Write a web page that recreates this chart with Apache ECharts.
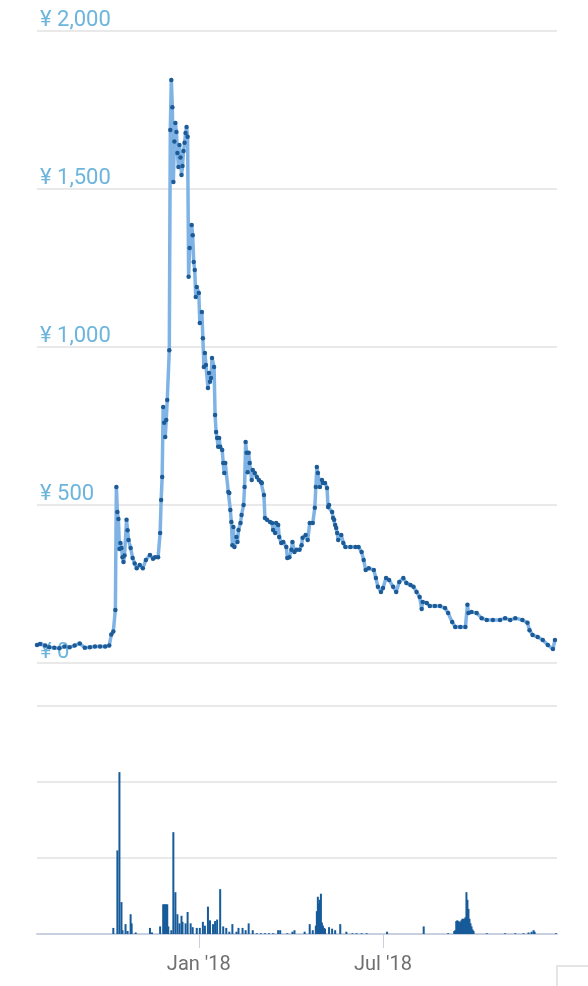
<!DOCTYPE html>
<html>
<head>
<meta charset="utf-8">
<title>Price and volume</title>
<script src="https://cdn.jsdelivr.net/npm/echarts@6/dist/echarts.min.js"></script>
<style>
  html, body { margin: 0; padding: 0; background: #fff; }
  #chart { width: 588px; height: 986px; }
</style>
</head>
<body>
<div id="chart"></div>
<script>
// price, yen per day
const priceDates = [
  '2017-07-26','2017-07-29','2017-08-03','2017-08-07','2017-08-12','2017-08-17','2017-08-22','2017-08-27',
  '2017-09-01','2017-09-06','2017-09-11','2017-09-16','2017-09-21','2017-09-26','2017-10-01','2017-10-05',
  '2017-10-07','2017-10-09','2017-10-11','2017-10-12','2017-10-13','2017-10-14','2017-10-15','2017-10-16',
  '2017-10-17','2017-10-18','2017-10-19','2017-10-20','2017-10-22','2017-10-23','2017-10-24','2017-10-26',
  '2017-10-28','2017-10-30','2017-11-01','2017-11-04','2017-11-07','2017-11-10','2017-11-14','2017-11-17',
  '2017-11-19','2017-11-22','2017-11-24','2017-11-25','2017-11-26','2017-11-27','2017-11-28','2017-11-29',
  '2017-11-30','2017-12-01','2017-12-03','2017-12-04','2017-12-05','2017-12-06','2017-12-07','2017-12-08',
  '2017-12-09','2017-12-10','2017-12-11','2017-12-12','2017-12-13','2017-12-14','2017-12-15','2017-12-16',
  '2017-12-17','2017-12-18','2017-12-19','2017-12-20','2017-12-21','2017-12-22','2017-12-23','2017-12-25',
  '2017-12-26','2017-12-27','2017-12-28','2017-12-29','2017-12-30','2018-01-01','2018-01-02','2018-01-04',
  '2018-01-05','2018-01-06','2018-01-07','2018-01-08','2018-01-10','2018-01-11','2018-01-12','2018-01-13',
  '2018-01-14','2018-01-16','2018-01-17','2018-01-18','2018-01-19','2018-01-20','2018-01-21','2018-01-22',
  '2018-01-24','2018-01-25','2018-01-26','2018-01-27','2018-01-30','2018-01-31','2018-02-01','2018-02-02',
  '2018-02-03','2018-02-04','2018-02-05','2018-02-07','2018-02-08','2018-02-09','2018-02-11','2018-02-12',
  '2018-02-14','2018-02-15','2018-02-16','2018-02-17','2018-02-18','2018-02-19','2018-02-20','2018-02-22',
  '2018-02-23','2018-02-25','2018-02-27','2018-03-01','2018-03-03','2018-03-04','2018-03-06','2018-03-07',
  '2018-03-09','2018-03-12','2018-03-14','2018-03-15','2018-03-17','2018-03-18','2018-03-20','2018-03-21',
  '2018-03-23','2018-03-25','2018-03-28','2018-03-29','2018-03-31','2018-04-02','2018-04-03','2018-04-05',
  '2018-04-07','2018-04-10','2018-04-12','2018-04-13','2018-04-16','2018-04-18','2018-04-20','2018-04-23',
  '2018-04-25','2018-04-26','2018-04-27','2018-04-28','2018-04-30','2018-05-02','2018-05-03','2018-05-05',
  '2018-05-07','2018-05-08','2018-05-09','2018-05-12','2018-05-13','2018-05-14','2018-05-15','2018-05-16',
  '2018-05-17','2018-05-18','2018-05-21','2018-05-23','2018-05-25','2018-05-30','2018-06-04','2018-06-07',
  '2018-06-10','2018-06-12','2018-06-14','2018-06-17','2018-06-22','2018-06-24','2018-06-26','2018-06-29',
  '2018-07-01','2018-07-04','2018-07-07','2018-07-11','2018-07-14','2018-07-17','2018-07-21','2018-07-24',
  '2018-07-28','2018-07-31','2018-08-03','2018-08-06','2018-08-08','2018-08-09','2018-08-13','2018-08-16',
  '2018-08-21','2018-08-26','2018-08-31','2018-09-03','2018-09-07','2018-09-10','2018-09-15','2018-09-20',
  '2018-09-22','2018-09-23','2018-09-26','2018-10-01','2018-10-06','2018-10-11','2018-10-17','2018-10-24',
  '2018-10-29','2018-11-03','2018-11-08','2018-11-15','2018-11-20','2018-11-22','2018-11-25','2018-11-30',
  '2018-12-05','2018-12-10','2018-12-15','2018-12-17'
]
const prices = [
  57,60,55,50,48,47,52,50,
  55,62,48,50,52,52,52,55,
  90,100,168,557,478,456,361,380,
  364,335,320,340,453,420,389,364,
  332,315,300,310,300,326,342,330,
  335,335,411,516,589,810,760,715,
  769,832,990,1687,1845,1759,1522,1650,
  1709,1680,1614,1570,1639,1600,1544,1573,
  1620,1646,1677,1696,1665,1222,1313,1386,
  1354,1269,1244,1158,1190,1171,1076,1111,
  1028,937,981,943,870,918,890,902,
  965,937,785,731,712,684,712,684,
  674,633,601,633,541,538,484,446,
  373,430,367,399,383,421,443,468,
  500,557,699,665,604,665,633,579,
  611,601,589,579,573,570,532,459,
  453,446,443,421,411,443,437,399,
  380,383,367,332,335,358,383,351,
  358,358,373,396,405,389,443,443,
  491,557,620,601,557,579,570,570,
  554,494,500,478,459,453,437,427,
  411,389,405,380,367,367,367,367,
  351,326,294,300,294,269,241,225,
  237,269,263,241,225,256,269,253,
  247,241,225,209,171,193,190,180,
  180,180,174,158,130,114,114,114,
  184,158,161,158,142,136,136,136,
  142,136,142,136,127,104,89,82,
  73,57,44,73
]

// traded volume (axis has no labels, units are gridline steps)
const volumeDates = [
  '2017-10-09','2017-10-13','2017-10-15','2017-10-17','2017-10-18','2017-10-21','2017-10-23','2017-10-26',
  '2017-10-27','2017-10-31','2017-11-14','2017-11-16','2017-11-24','2017-11-27','2017-11-28','2017-11-29',
  '2017-11-30','2017-12-01','2017-12-02','2017-12-05','2017-12-07','2017-12-09','2017-12-11','2017-12-13',
  '2017-12-15','2017-12-16','2017-12-19','2017-12-21','2017-12-24','2017-12-26','2017-12-30','2018-01-02',
  '2018-01-05','2018-01-07','2018-01-10','2018-01-12','2018-01-15','2018-01-17','2018-01-19','2018-01-22',
  '2018-01-25','2018-01-28','2018-01-31','2018-02-03','2018-02-07','2018-02-09','2018-02-13','2018-02-16',
  '2018-02-19','2018-02-23','2018-02-27','2018-03-03','2018-03-07','2018-03-11','2018-03-15','2018-03-20',
  '2018-03-22','2018-03-29','2018-04-03','2018-04-05','2018-04-15','2018-04-20','2018-04-23','2018-04-26',
  '2018-04-27','2018-04-28','2018-04-29','2018-04-30','2018-05-01','2018-05-02','2018-05-03','2018-05-04',
  '2018-05-05','2018-05-09','2018-05-12','2018-05-15','2018-05-20','2018-05-26','2018-06-01','2018-06-05',
  '2018-06-10','2018-06-15','2018-07-05','2018-08-10','2018-09-03','2018-09-09','2018-09-10','2018-09-11',
  '2018-09-12','2018-09-13','2018-09-14','2018-09-15','2018-09-16','2018-09-17','2018-09-18','2018-09-19',
  '2018-09-20','2018-09-21','2018-09-22','2018-09-23','2018-09-24','2018-09-25','2018-09-26','2018-09-27',
  '2018-09-28','2018-10-11','2018-10-29','2018-11-08','2018-11-16','2018-11-21','2018-11-24','2018-11-26',
  '2018-11-27','2018-12-18'
]
const volumes = [
  0.08,1.1,2.13,0.42,0.05,0.13,0.04,0.26,
  0.14,0.02,0.08,0.02,0.1,0.39,0.39,0.39,
  0.39,0.39,0.1,0.05,1.34,0.55,0.26,0.14,
  0.24,0.16,0.14,0.29,0.14,0.09,0.08,0.08,
  0.16,0.11,0.36,0.18,0.13,0.17,0.19,0.59,
  0.1,0.08,0.03,0.13,0.03,0.08,0.08,0.05,
  0.14,0.05,0.01,0.01,0.01,0.01,0.01,0.05,
  0.05,0.01,0.03,0.05,0.03,0.13,0.05,0.11,
  0.3,0.49,0.4,0.45,0.53,0.15,0.11,0.08,
  0.07,0.09,0.07,0.05,0.13,0.03,0.01,0.01,
  0.01,0.01,0.03,0.1,0.01,0.04,0.05,0.17,
  0.18,0.17,0.16,0.16,0.18,0.2,0.2,0.2,
  0.22,0.55,0.45,0.33,0.2,0.14,0.1,0.06,
  0.04,0.01,0.01,0.01,0.01,0.02,0.03,0.05,
  0.03,0.01
]

const tickDates = ['2018-01-01', '2018-07-01']
const tickLabels = ["Jan '18", "Jul '18"]

const startDate = '2017-07-26'
const endDate = '2018-12-19'

// dates become timestamps on a plain value axis so ticks can be placed exactly
const toTime = d => Date.UTC(+d.slice(0, 4), +d.slice(5, 7) - 1, +d.slice(8, 10))
const tickTimes = tickDates.map(toTime)

const chart = echarts.init(document.getElementById('chart'))

const option = {
  animation: false,
  backgroundColor: '#fff',
  textStyle: { fontFamily: 'Roboto' },
  grid: [
    { left: 37, right: 31, top: 31, height: 632 },
    { left: 37, right: 31, top: 706, height: 228 }
  ],
  xAxis: [
    {
      type: 'value', gridIndex: 0, min: toTime(startDate), max: toTime(endDate), show: false
    },
    {
      type: 'value', gridIndex: 1, min: toTime(startDate), max: toTime(endDate),
      axisLine: { lineStyle: { color: '#c9d0df', width: 2 } },
      axisTick: {
        customValues: tickTimes, length: 14,
        lineStyle: { color: '#c9d0df', width: 1 }
      },
      axisLabel: {
        customValues: tickTimes,
        formatter: v => tickLabels[tickTimes.indexOf(v)] || '',
        color: '#6f6f6f', fontSize: 20, margin: 21
      },
      splitLine: { show: false }
    }
  ],
  yAxis: [
    {
      type: 'value', gridIndex: 0, min: 0, max: 2000, interval: 500,
      axisLine: { show: false },
      axisTick: { show: false },
      splitLine: { lineStyle: { color: '#e2e2e2', width: 1.5 } },
      axisLabel: {
        inside: true, margin: 3, verticalAlign: 'bottom',
        color: '#6cb5dc', fontSize: 22,
        formatter: v => '¥ ' + v.toLocaleString('en-US')
      }
    },
    {
      type: 'value', gridIndex: 1, min: 0, max: 3, interval: 1,
      axisLine: { show: false },
      axisTick: { show: false },
      axisLabel: { show: false },
      splitLine: { lineStyle: { color: '#e2e2e2', width: 1.5 } }
    }
  ],
  series: [
    {
      type: 'line',
      xAxisIndex: 0, yAxisIndex: 0,
      data: priceDates.map((d, i) => [toTime(d), prices[i]]),
      showAllSymbol: true,
      symbol: 'circle',
      symbolSize: 4.5,
      lineStyle: { color: '#7fb3e6', width: 3.5 },
      itemStyle: { color: '#1d5b97' },
      z: 3
    },
    {
      type: 'bar',
      xAxisIndex: 1, yAxisIndex: 1,
      data: volumeDates.map((d, i) => [toTime(d), volumes[i]]),
      barWidth: 2,
      itemStyle: { color: '#175b9a' }
    }
  ],
  graphic: [
    {
      type: 'rect',
      shape: { x: 557, y: 966, width: 40, height: 30 },
      style: { fill: '#fff', stroke: '#dddddd', lineWidth: 1.5 }
    }
  ]
}

chart.setOption(option)
</script>
</body>
</html>
